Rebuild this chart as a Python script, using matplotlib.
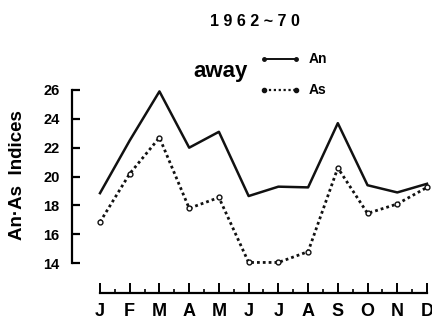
import matplotlib
matplotlib.use("Agg")
import matplotlib.pyplot as plt
from matplotlib.ticker import FixedLocator

months = ["J", "F", "M", "A", "M", "J", "J", "A", "S", "O", "N", "D"]
an = [18.85, 22.5, 25.9, 22.0, 23.1, 18.65, 19.3, 19.25, 23.7, 19.4, 18.9, 19.5]
as_ = [16.85, 20.2, 22.7, 17.8, 18.55, 14.05, 14.05, 14.8, 20.6, 17.45, 18.1, 19.25]
yticks = [14, 16, 18, 20, 22, 24, 26]

plt.rcParams["font.family"] = ["Liberation Sans", "DejaVu Sans"]
plt.rcParams["font.weight"] = "bold"

fig = plt.figure(figsize=(4.32, 3.25), dpi=100)
ax = fig.add_axes([72 / 432, 25 / 325, 360 / 432, 220 / 325])
x = list(range(len(months)))

ax.plot(x, an, color="#111111", lw=1.8)
ax.plot(x, as_, color="#111111", lw=2.0, ls=(0, (1, 1.1)),
        marker="o", ms=3.5, mfc="white", mec="#111111", mew=1.0)

ax.set_xlim(-28 / 29.73, 11 + 5 / 29.73)
ax.set_ylim(14 - 37 / 14.5, 26 + 10 / 14.5)

for s in ["top", "right"]:
    ax.spines[s].set_visible(False)
ax.spines["left"].set_bounds(14, 26)
ax.spines["left"].set_linewidth(1.6)
ax.spines["bottom"].set_position(("data", 14 - 30 / 14.5))
ax.spines["bottom"].set_bounds(0, 11)
ax.spines["bottom"].set_linewidth(1.6)

ax.set_yticks(yticks)
ax.set_yticklabels([str(v) for v in yticks], fontsize=10.5, fontweight="bold")
ax.tick_params(axis="y", direction="in", length=6, width=1.6, pad=9)
ax.set_xticks(x)
ax.set_xticklabels(months, fontsize=13, fontweight="bold")
ax.xaxis.set_minor_locator(FixedLocator([i + 0.5 for i in x[:-1]]))
ax.tick_params(axis="x", which="major", direction="in", length=7, width=1.4, pad=7)
ax.tick_params(axis="x", which="minor", direction="in", length=3, width=1.2)

fig.text(18 / 432, 1 - 175 / 325, "An·As  Indices", rotation=90, ha="center", va="center",
         fontsize=13.5, fontweight="bold")
fig.text(255 / 432, 1 - 22 / 325, "1 9 6 2 ~ 7 0", ha="center", va="center",
         fontsize=11.5, fontweight="bold")
fig.text(221 / 432, 1 - 71 / 325, "away", ha="center", va="center",
         fontsize=16, fontweight="bold")

# legend drawn by hand in figure coordinates
fig.lines.append(plt.Line2D([264 / 432, 296 / 432], [1 - 59 / 325] * 2, transform=fig.transFigure,
                            color="#111111", lw=1.4, marker="o", ms=2.5, markevery=[0, 1]))
fig.lines.append(plt.Line2D([264 / 432, 296 / 432], [1 - 90 / 325] * 2, transform=fig.transFigure,
                            color="#111111", lw=1.6, ls=(0, (1, 1.2)), marker="o", ms=3,
                            markevery=[0, 1]))
fig.text(309 / 432, 1 - 59 / 325, "An", ha="left", va="center", fontsize=10, fontweight="bold")
fig.text(309 / 432, 1 - 90 / 325, "As", ha="left", va="center", fontsize=10, fontweight="bold")

fig.savefig("out.png", dpi=100)
